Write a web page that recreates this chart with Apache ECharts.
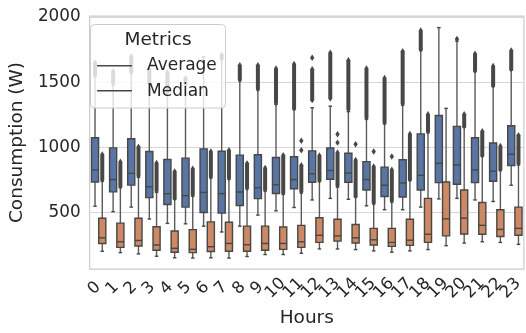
<!DOCTYPE html>
<html><head><meta charset="utf-8">
<script src="https://cdn.jsdelivr.net/npm/echarts@6/dist/echarts.min.js"></script>
<style>html,body{margin:0;padding:0;background:#fff}#c{width:526px;height:333px}</style>
</head><body><div id="c"></div>
<script>
// ---- data ----
const hours = ['0','1','2','3','4','5','6','7','8','9','10','11','12','13','14','15','16','17','18','19','20','21','22','23'];
const yTicks = [500, 1000, 1500, 2000];

// "Average" (blue) box statistics per hour
const avgLow  = [548, 506, 541, 450, 416, 413, 395, 350, 395, 480, 513, 538, 596, 608, 601, 551, 521, 521, 541, 604, 608, 596, 584, 709];
const avgQ1   = [734, 658, 710, 614, 561, 541, 500, 495, 553, 606, 646, 682, 732, 755, 732, 672, 622, 619, 672, 729, 717, 729, 739, 860];
const avgMed  = [827, 752, 800, 697, 644, 629, 654, 644, 657, 689, 712, 752, 797, 822, 802, 752, 709, 727, 785, 877, 865, 827, 817, 947];
const avgQ3   = [1073, 996, 1066, 968, 907, 917, 988, 970, 940, 943, 922, 928, 973, 995, 955, 890, 848, 905, 1103, 1244, 1161, 1073, 1033, 1166];
const avgHigh = [1545, 1480, 1570, 1490, 1420, 1470, 1695, 1675, 1510, 1440, 1330, 1290, 1304, 1316, 1274, 1216, 1179, 1324, 1743, 1919, 1815, 1581, 1467, 1593];
// dense runs of outliers: [hour, lowest, highest]
const avgOutRuns = [[0,1555,1650],[1,1495,1585],[2,1580,1700],[3,1500,1600],[4,1430,1575],[5,1485,1530],
  [7,1690,1710],[8,1520,1630],[9,1450,1630],[10,1340,1605],[11,1300,1640],[12,1362,1600],[13,1374,1726],
  [14,1290,1668],[15,1225,1605],[16,1190,1532],[17,1335,1738],[18,1751,1897],[21,1590,1718],[22,1475,1625],[23,1600,1743]];
const avgOutSingles = [[12,1688],[20,1832]];

// "Median" (orange) box statistics per hour
const medLow  = [202, 192, 182, 164, 152, 150, 152, 150, 162, 177, 177, 187, 220, 220, 215, 205, 195, 205, 215, 245, 265, 275, 270, 255];
const medQ1   = [262, 232, 243, 210, 195, 192, 200, 202, 202, 210, 217, 232, 270, 280, 265, 250, 240, 247, 270, 320, 335, 333, 315, 325];
const medMed  = [305, 275, 285, 250, 225, 217, 237, 262, 252, 262, 262, 275, 325, 320, 305, 290, 270, 287, 333, 451, 456, 401, 370, 378];
const medQ3   = [456, 418, 456, 390, 358, 368, 428, 425, 395, 395, 388, 401, 459, 448, 408, 378, 378, 448, 608, 734, 672, 576, 521, 541];
const medHigh = [740, 690, 770, 655, 600, 625, 765, 755, 680, 665, 640, 650, 738, 695, 618, 565, 580, 745, 1111, 1299, 1154, 930, 822, 865];
const medOutRuns = [[0,750,945],[1,700,890],[2,780,1005],[3,665,880],[4,610,815],[5,635,835],[6,775,968],[7,765,978],
  [8,690,877],[9,675,842],[10,650,940],[11,660,862],[12,745,938],[13,705,960],[14,625,903],[15,575,853],[16,590,828],
  [17,755,1103],[18,1124,1254],[20,1161,1254],[21,940,1123],[22,830,1011],[23,875,1093]];
const medOutSingles = [[11,978],[11,1050],[13,1036],[13,1100],[14,1024],[15,968],[16,930]];

// ---- styling ----
const FONT = 'DejaVu Sans';
const TXT = '#262626';
const LINE = '#474747';
const BLUE = '#5875a4';
const ORANGE = '#cc8963';

function boxData(lo, q1, md, q3, hi) {
  return hours.map((h, i) => [i, lo[i], q1[i], md[i], q3[i], hi[i]]);
}

function boxRenderer(side, fill) {
  return function (params, api) {
    const i = api.value(0);
    const band = api.size([1, 0])[0];
    const pMed = api.coord([i, api.value(3)]);
    const cx = pMed[0] + side * band * 0.2;
    const w = band * 0.4 * 0.98;
    const yLow = api.coord([i, api.value(1)])[1];
    const yQ1 = api.coord([i, api.value(2)])[1];
    const yQ3 = api.coord([i, api.value(4)])[1];
    const yHigh = api.coord([i, api.value(5)])[1];
    const cap = w * 0.5;
    const ls = { stroke: LINE, lineWidth: 1.4 };
    const ws = { stroke: '#5a5a5a', lineWidth: 1.4 };
    return { type: 'group', children: [
      { type: 'line', shape: { x1: cx, y1: yQ1, x2: cx, y2: yLow }, style: ws },
      { type: 'line', shape: { x1: cx, y1: yQ3, x2: cx, y2: yHigh }, style: ws },
      { type: 'line', shape: { x1: cx - cap / 2, y1: yLow, x2: cx + cap / 2, y2: yLow }, style: ls },
      { type: 'line', shape: { x1: cx - cap / 2, y1: yHigh, x2: cx + cap / 2, y2: yHigh }, style: ls },
      { type: 'rect', shape: { x: cx - w / 2, y: yQ3, width: w, height: yQ1 - yQ3 }, style: { fill: fill, stroke: LINE, lineWidth: 1.4 } },
      { type: 'line', shape: { x1: cx - w / 2, y1: pMed[1], x2: cx + w / 2, y2: pMed[1] }, style: ls }
    ]};
  };
}

function runRenderer(side) {
  return function (params, api) {
    const i = api.value(0);
    const band = api.size([1, 0])[0];
    const pLo = api.coord([i, api.value(1)]);
    const pHi = api.coord([i, api.value(2)]);
    const cx = pLo[0] + side * band * 0.2;
    const hw = 2.0, hh = 3.2;
    return { type: 'polygon', shape: { points: [
      [cx, pHi[1] - hh], [cx + hw, pHi[1]], [cx + hw, pLo[1]], [cx, pLo[1] + hh], [cx - hw, pLo[1]], [cx - hw, pHi[1]]
    ]}, style: { fill: LINE } };
  };
}

function singleRenderer(side) {
  return function (params, api) {
    const i = api.value(0);
    const band = api.size([1, 0])[0];
    const p = api.coord([i, api.value(1)]);
    const cx = p[0] + side * band * 0.2;
    const hw = 2.2, hh = 3.2;
    return { type: 'polygon', shape: { points: [[cx, p[1] - hh], [cx + hw, p[1]], [cx, p[1] + hh], [cx - hw, p[1]]] }, style: { fill: LINE } };
  };
}

const chart = echarts.init(document.getElementById('c'), null, { renderer: 'canvas' });
const legendZ = 100;
chart.setOption({
  animation: false,
  backgroundColor: '#ffffff',
  textStyle: { fontFamily: FONT },
  grid: { left: 82, right: 2, top: 16, bottom: 59, show: true, borderColor: '#cccccc', borderWidth: 1.2, backgroundColor: 'transparent' },
  xAxis: {
    type: 'category', data: hours, boundaryGap: true,
    name: 'Hours', nameLocation: 'middle', nameGap: 40,
    nameTextStyle: { fontFamily: FONT, fontSize: 18.5, color: TXT },
    axisLine: { show: false }, axisTick: { show: false }, splitLine: { show: false },
    axisLabel: { interval: 0, rotate: 45, fontFamily: FONT, fontSize: 16.5, color: TXT, margin: 23.5, align: 'center', verticalAlign: 'bottom', lineHeight: 12 }
  },
  yAxis: {
    type: 'value', min: 66, max: 2008, splitNumber: 4,
    name: 'Consumption (W)', nameLocation: 'middle', nameGap: 57,
    nameTextStyle: { fontFamily: FONT, fontSize: 18.5, color: TXT },
    axisLine: { show: false }, axisTick: { show: false },
    splitLine: { show: true, lineStyle: { color: '#d6d6d6', width: 1.2 } },
    axisLabel: {
      fontFamily: FONT, fontSize: 16.8, color: TXT, margin: 9, showMinLabel: false, showMaxLabel: false,
      formatter: v => (yTicks.indexOf(v) >= 0 ? String(v) : '')
    }
  },
  series: [
    { type: 'custom', name: 'Average', data: boxData(avgLow, avgQ1, avgMed, avgQ3, avgHigh), renderItem: boxRenderer(-1, BLUE), encode: { x: 0, y: [1, 5] }, z: 3 },
    { type: 'custom', name: 'Median', data: boxData(medLow, medQ1, medMed, medQ3, medHigh), renderItem: boxRenderer(1, ORANGE), encode: { x: 0, y: [1, 5] }, z: 3 },
    { type: 'custom', name: 'Average outliers', data: avgOutRuns, renderItem: runRenderer(-1), encode: { x: 0, y: [1, 2] }, z: 4 },
    { type: 'custom', name: 'Median outliers', data: medOutRuns, renderItem: runRenderer(1), encode: { x: 0, y: [1, 2] }, z: 4 },
    { type: 'custom', name: 'Average outlier points', data: avgOutSingles, renderItem: singleRenderer(-1), encode: { x: 0, y: 1 }, z: 4 },
    { type: 'custom', name: 'Median outlier points', data: medOutSingles, renderItem: singleRenderer(1), encode: { x: 0, y: 1 }, z: 4 }
  ],
  graphic: [
    { type: 'rect', z: legendZ, shape: { x: 90.5, y: 24.5, width: 135, height: 83.5, r: 4 }, style: { fill: 'rgba(255,255,255,0.8)', stroke: '#cccccc', lineWidth: 1 } },
    { type: 'text', z: legendZ + 1, x: 158, y: 40, style: { text: 'Metrics', font: '18.5px "DejaVu Sans"', fill: TXT, textAlign: 'center', textVerticalAlign: 'middle' } },
    { type: 'line', z: legendZ + 1, shape: { x1: 97, y1: 65.7, x2: 132, y2: 65.7 }, style: { stroke: LINE, lineWidth: 1.4 } },
    { type: 'text', z: legendZ + 1, x: 147, y: 66, style: { text: 'Average', font: '17px "DejaVu Sans"', fill: TXT, textAlign: 'left', textVerticalAlign: 'middle' } },
    { type: 'line', z: legendZ + 1, shape: { x1: 97, y1: 90.7, x2: 132, y2: 90.7 }, style: { stroke: LINE, lineWidth: 1.4 } },
    { type: 'text', z: legendZ + 1, x: 147, y: 91.5, style: { text: 'Median', font: '17px "DejaVu Sans"', fill: TXT, textAlign: 'left', textVerticalAlign: 'middle' } }
  ]
});
</script>
</body></html>
